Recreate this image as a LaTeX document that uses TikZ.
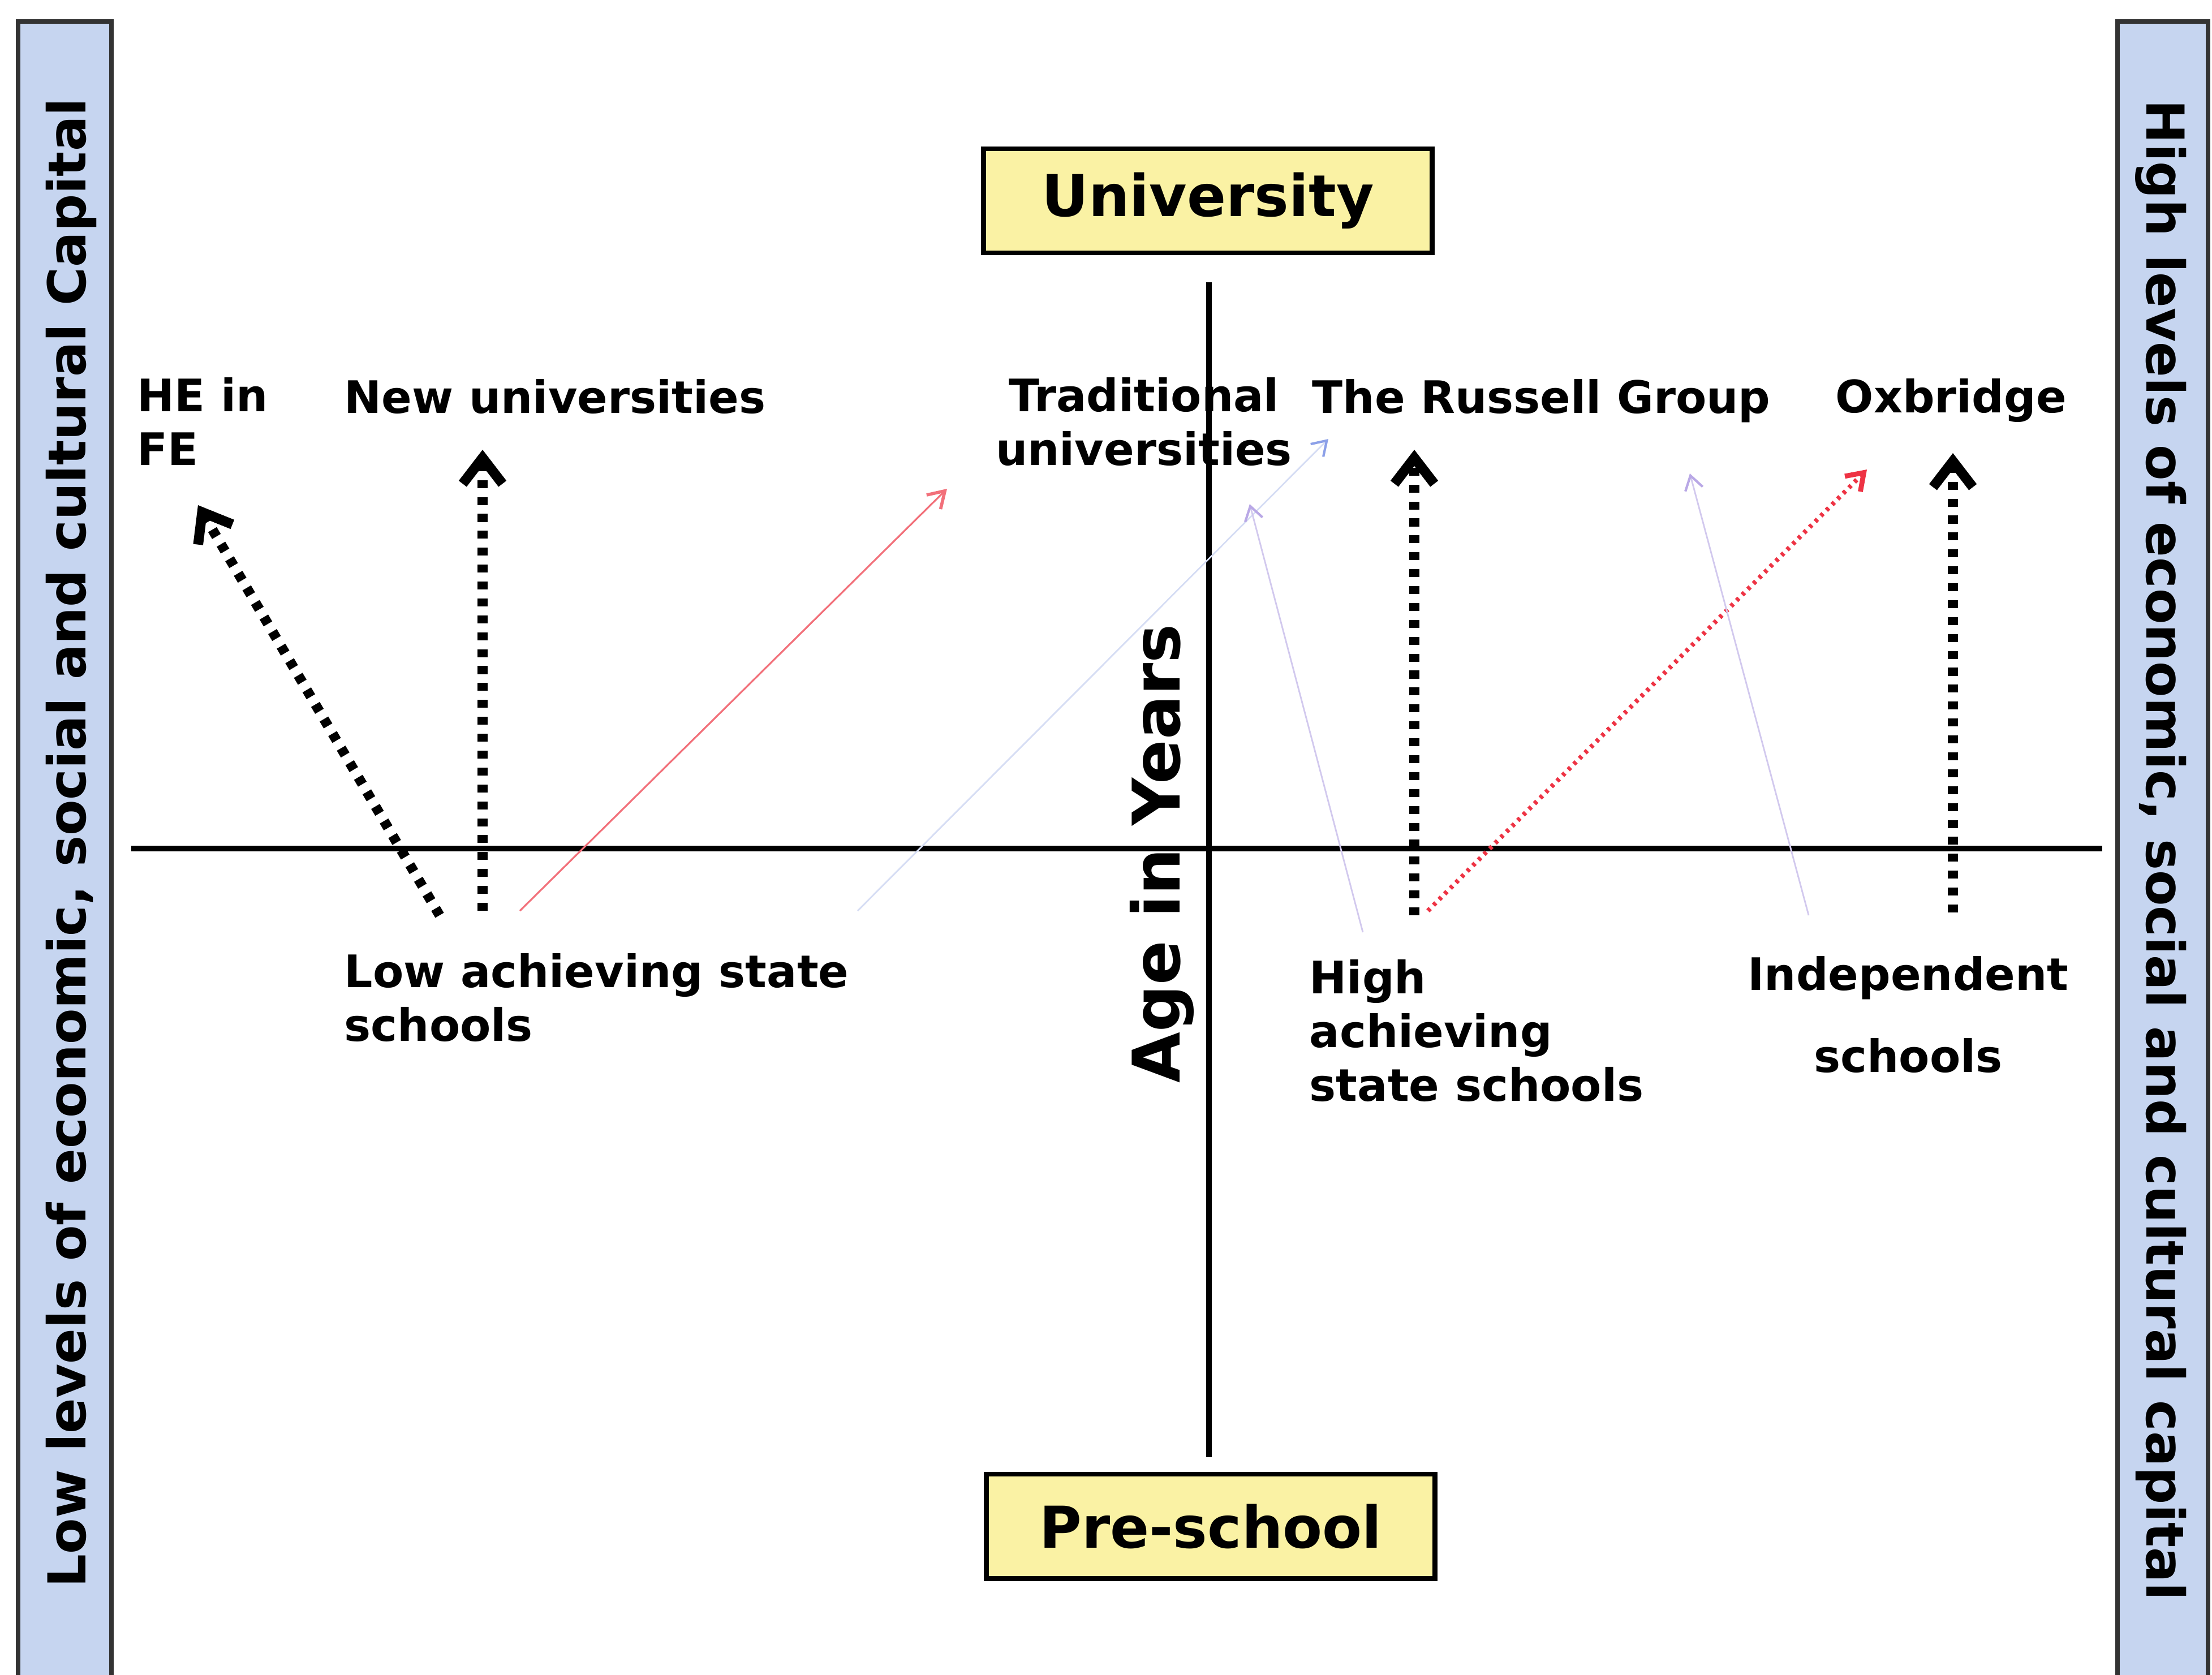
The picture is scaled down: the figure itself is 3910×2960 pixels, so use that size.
\documentclass[tikz,border=0pt]{standalone}
\usepackage{fontspec}
\setmainfont{DejaVu Sans}
\usetikzlibrary{arrows.meta, positioning}
\definecolor{barblue}{HTML}{C6D5F0}
\definecolor{stageyellow}{HTML}{FAF2A4}
\definecolor{routered}{HTML}{EE3344}
\definecolor{faintred}{HTML}{F2707A}
\definecolor{faintlilac}{HTML}{D2C9EE}
\definecolor{tiplilac}{HTML}{B9A8E6}
\definecolor{faintblue}{HTML}{D6DDF4}
\definecolor{tipblue}{HTML}{8CA0E8}

\begin{document}
\begin{tikzpicture}[x=0.01cm, y=-0.01cm,
      every node/.style={font=\bfseries},
      axis/.style={line width=2.8pt},
      sidebar/.style={draw=black!80, line width=2.3pt, fill=barblue},
      sidetext/.style={font=\bfseries\fontsize{26.3}{30}\selectfont, inner sep=0pt},
      stage/.style={draw, line width=2.5pt, fill=stageyellow, minimum width=7.93cm,
        minimum height=1.84cm, font=\bfseries\fontsize{29}{34}\selectfont},
      place/.style={font=\bfseries\fontsize{22.5}{27}\selectfont, inner sep=0pt, anchor=base west, align=left},
      route/.style={line width=5pt, dash pattern=on 4pt off 4.5pt,
        -{Straight Barb[length=13pt,width=20pt,line width=5pt]}},
      redroute/.style={routered, line width=2.3pt, dash pattern=on 1.6pt off 2.4pt,
        -{Straight Barb[length=8pt,width=11pt,line width=2.5pt]}},
      thinroute/.style={faintred, line width=0.9pt, -{Straight Barb[length=8pt,width=10pt,line width=1.6pt]}},
      paleroute/.style={faintlilac, line width=0.8pt,
        -{Straight Barb[length=7pt,width=9pt,line width=1.2pt,color=tiplilac]}}]
      \fill[white] (0,0) rectangle (3910,2960);
      \useasboundingbox (0,0) rectangle (3910,2960);

      % side bars
      \path[sidebar] (32,38) rectangle (197,3010);
      \path[sidebar] (3743,38) rectangle (3903,3010);
      \node[sidetext, rotate=90] (lowcap) at (126,1490) {Low levels of economic, social and cultural Capital};
      \node[sidetext, rotate=-90] (highcap) at (3820,1503) {High levels of economic, social and cultural capital};

      % axes
      \coordinate (ytop) at (2137,499);
      \coordinate (ybot) at (2137,2576);
      \coordinate (xleft) at (232,1500);
      \coordinate (xright) at (3716,1500);
      \draw[axis] (ytop) -- (ybot);
      \draw[axis] (xleft) -- (xright);
      \node[stage] (uni) at (2135,355) {University};
      \node[stage] (pre) at (2140,2698) {Pre-school};
      \node[font=\bfseries\fontsize{33}{36}\selectfont, rotate=90, anchor=base, inner sep=0pt] (age) at (2085,1509) {Age in Years};

      % destinations (base = last line)
      \node[place] (hefe) at (242,822) {HE in\\FE};
      \node[place] (newuni) at (608,730) {New universities};
      \node[place, anchor=base, align=center] (traduni) at (2022,822) {Traditional\\universities};
      \node[place] (russell) at (2319,730) {The Russell Group};
      \node[place] (oxbridge) at (3244,729) {Oxbridge};

      % schools
      \node[place] (lowstate) at (608,1840) {Low achieving state\\schools};
      \node[place] (highstate) at (2314,1946) {High\\achieving\\state schools};
      \node[place, anchor=base, align=center] (indep) at (3373,1895) {Independent\\[14pt]schools};

      % route ends
      \coordinate (lowA) at (777,1618);
      \coordinate (lowB) at (853,1610);
      \coordinate (lowC) at (919,1610);
      \coordinate (lowD) at (1516,1610);
      \coordinate (highA) at (2409,1648);
      \coordinate (highB) at (2500,1618);
      \coordinate (highC) at (2524,1610);
      \coordinate (indA) at (3197,1618);
      \coordinate (indB) at (3452,1613);
      \coordinate (toFE) at (350,893);
      \coordinate (toNew) at (853,795);
      \coordinate (toTrad) at (1674,864);
      \coordinate (toTradB) at (2348,776);
      \coordinate (toTradC) at (2209,891);
      \coordinate (toRussell) at (2500,795);
      \coordinate (toRussellB) at (2987,837);
      \coordinate (toOx) at (3300,830);
      \coordinate (toOxB) at (3452,801);

      \draw[route] (lowA) -- (toFE);
      \draw[route] (lowB) -- (toNew);
      \draw[thinroute] (lowC) -- (toTrad);
      \draw[faintblue, line width=0.8pt, -{Straight Barb[length=7pt,width=9pt,line width=1.2pt,color=tipblue]}] (lowD) -- (toTradB);
      \draw[paleroute] (highA) -- (toTradC);
      \draw[route] (highB) -- (toRussell);
      \draw[redroute] (highC) -- (toOx);
      \draw[paleroute] (indA) -- (toRussellB);
      \draw[route] (indB) -- (toOxB);
    \end{tikzpicture}
\end{document}
